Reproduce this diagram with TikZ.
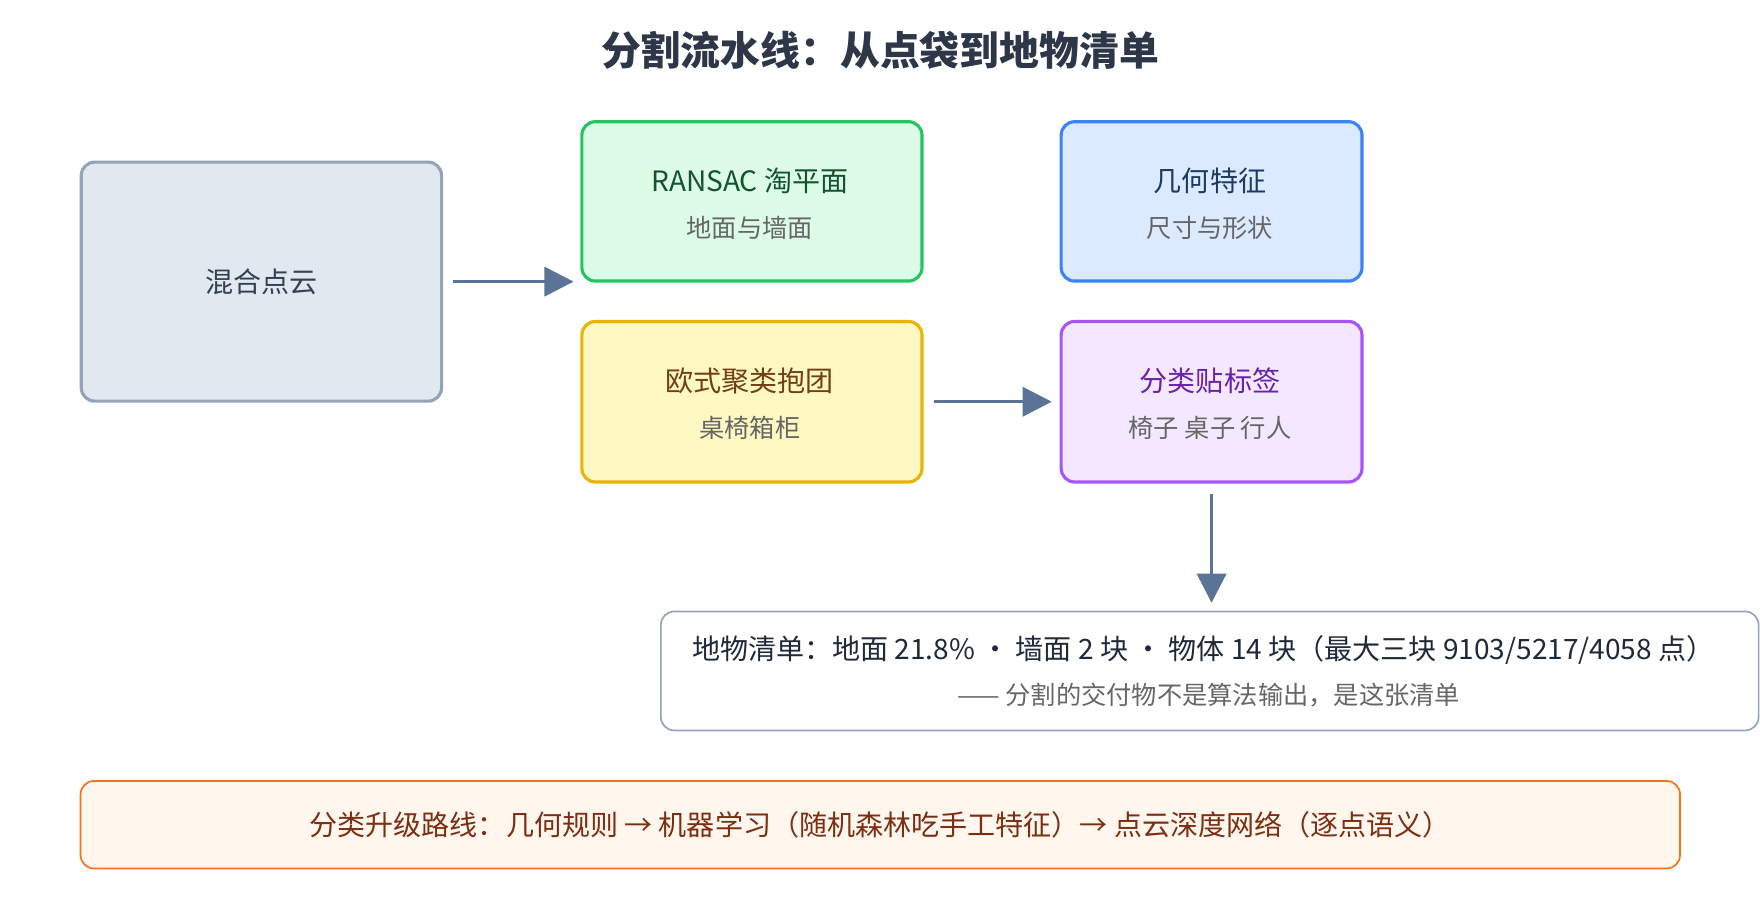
\documentclass[tikz,border=0pt]{standalone}
\usepackage{fontspec}
\setmainfont{Noto Sans CJK SC}
\usetikzlibrary{arrows.meta}
\definecolor{arr}{HTML}{5A7397}
\begin{document}
\begin{tikzpicture}[x=1pt,y=-1pt,
 box/.style={draw, line width=2.8pt, rounded corners=12pt, anchor=north west, inner sep=0pt},
 ttl/.style={font=\fontsize{25}{30}\selectfont},
 sub/.style={font=\fontsize{22.5}{27}\selectfont, text=black!60},
 con/.style={draw=arr, line width=3pt, -{Triangle[length=26pt,width=26pt]}}]
\useasboundingbox[fill=white] (0,0) rectangle (1568,820);
\node[font=\fontsize{35.5}{42}\selectfont\bfseries, text={rgb,255:red,45;green,55;blue,72}] (title) at (784,45) {分割流水线：从点袋到地物清单};
\node[box, fill={rgb,255:red,226;green,232;blue,240}, draw={rgb,255:red,148;green,163;blue,184}, minimum width=321pt, minimum height=213pt] (mix) at (71,143) {};
\node[ttl, text={rgb,255:red,51;green,65;blue,85}] at (mix.center) {混合点云};
\node[box, fill={rgb,255:red,220;green,252;blue,231}, draw={rgb,255:red,34;green,197;blue,94}, minimum width=303pt, minimum height=142pt] (ran) at (517,107) {};
\node[ttl, text={rgb,255:red,20;green,83;blue,45}] at (668,161) {RANSAC 淘平面};
\node[sub] at (668,203) {地面与墙面};
\node[box, fill={rgb,255:red,219;green,234;blue,254}, draw={rgb,255:red,59;green,130;blue,246}, minimum width=268pt, minimum height=142pt] (geo) at (944,107) {};
\node[ttl, text={rgb,255:red,30;green,58;blue,95}] at (1078,161) {几何特征};
\node[sub] at (1078,203) {尺寸与形状};
\node[box, fill={rgb,255:red,254;green,249;blue,195}, draw={rgb,255:red,234;green,179;blue,8}, minimum width=303pt, minimum height=143pt] (clu) at (517,285) {};
\node[ttl, text={rgb,255:red,113;green,63;blue,18}] at (668,339) {欧式聚类抱团};
\node[sub] at (668,381) {桌椅箱柜};
\node[box, fill={rgb,255:red,243;green,232;blue,255}, draw={rgb,255:red,168;green,85;blue,247}, minimum width=268pt, minimum height=143pt] (cls) at (944,285) {};
\node[ttl, text={rgb,255:red,107;green,33;blue,168}] at (1078,339) {分类贴标签};
\node[sub] at (1078,381) {椅子 桌子 行人};
\node[box, line width=1.5pt, fill=white, draw={rgb,255:red,148;green,163;blue,184}, minimum width=978pt, minimum height=106pt] (out) at (588,544) {};
\node[ttl, text={rgb,255:red,31;green,41;blue,55}] at (1072,579) {地物清单：地面 21.8\% · 墙面 2 块 · 物体 14 块（最大三块 9103/5217/4058 点）};
\node[sub] at (1077,619) {—— 分割的交付物不是算法输出，是这张清单};
\node[box, line width=1.5pt, fill={rgb,255:red,255;green,247;blue,237}, draw={rgb,255:red,249;green,115;blue,22}, minimum width=1425pt, minimum height=78pt] (road) at (71,695) {};
\node[ttl, text={rgb,255:red,124;green,45;blue,18}] at (road.center) {分类升级路线：几何规则 → 机器学习（随机森林吃手工特征）→ 点云深度网络（逐点语义）};
\draw[con] ([xshift=9pt]mix.east) -- ([xshift=-6pt]mix.east -| ran.west);
\draw[con] ([xshift=9pt]clu.east) -- ([xshift=-7pt]cls.west);
\draw[con] ([yshift=-9pt]cls.south) -- ([yshift=7pt]cls.south |- out.north);
\end{tikzpicture}
\end{document}
